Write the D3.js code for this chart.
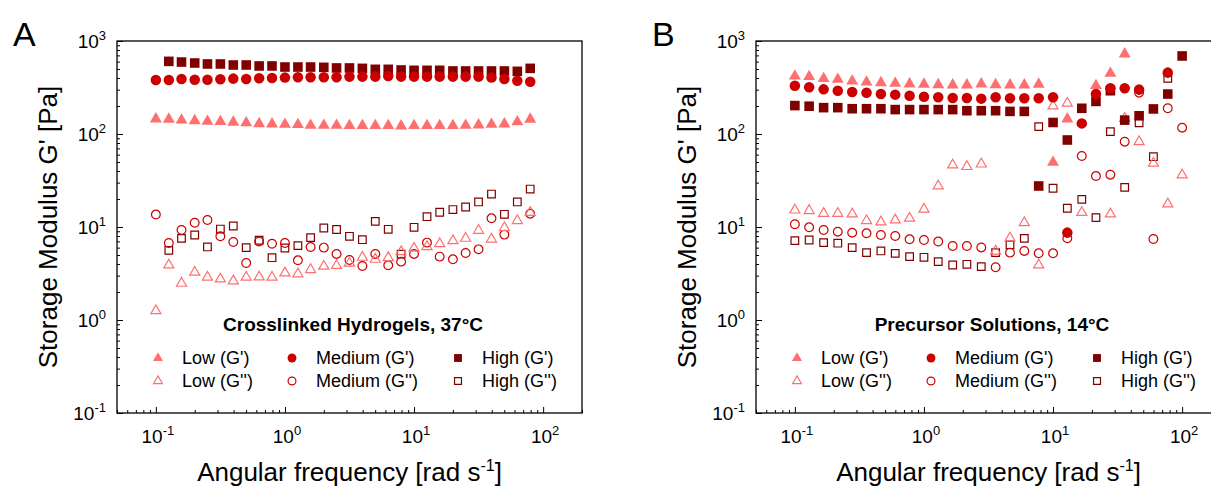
<!DOCTYPE html>
<html>
<head>
<meta charset="utf-8">
<script src="https://cdn.jsdelivr.net/npm/d3@7"></script>
<style>
  body { margin: 0; background: #fff; }
  svg { font-family: "Liberation Sans", Arial, sans-serif; }
</style>
</head>
<body>
<svg id="chart" width="1211" height="488"></svg>
<script>
// angular frequency [rad/s]
const freqA = [0.1, 0.126, 0.158, 0.2, 0.251, 0.316, 0.398, 0.501, 0.631, 0.794, 1, 1.26, 1.58, 2, 2.51, 3.16, 3.98, 5.01, 6.31, 7.94, 10, 12.6, 15.8, 20, 25.1, 31.6, 39.8, 50.1, 63.1, 79.4];
const freqB = [0.1, 0.129, 0.167, 0.215, 0.278, 0.359, 0.464, 0.599, 0.774, 1, 1.29, 1.67, 2.15, 2.78, 3.59, 4.64, 5.99, 7.74, 10, 12.9, 16.7, 21.5, 27.8, 35.9, 46.4, 59.9, 77.4, 100];

// A: crosslinked hydrogels, 37°C  (G1 = G', G2 = G'')
const gelLowG1 = [145, 144, 141, 139, 137, 136, 134, 132, 129, 128, 127, 126, 124, 124, 124, 123, 123, 123, 123, 122, 123, 123, 123, 123, 124, 125, 127, 128, 135, 144];
const gelLowG2 = [1.26, 3.9, 2.48, 3.26, 2.88, 2.76, 2.63, 2.88, 2.9, 2.88, 3.2, 3.13, 3.48, 3.78, 3.85, 4.07, 4.72, 4.49, 4.68, 5.43, 5.9, 6.15, 6.6, 7.13, 7.55, 9.2, 7.4, 9.84, 11.7, 14.3];
const gelMedG1 = [381, 381, 390, 384, 384, 387, 394, 390, 397, 400, 404, 407, 407, 407, 407, 414, 414, 414, 421, 414, 414, 414, 414, 414, 414, 414, 404, 390, 374, 365];
const gelMedG2 = [13.6, 6.73, 9.29, 11.1, 11.9, 7.94, 6.9, 4.1, 7.0, 6.6, 6.73, 4.38, 6.1, 6.0, 5.13, 4.42, 3.81, 5.13, 3.87, 4.24, 5.13, 6.79, 4.8, 4.49, 5.25, 5.75, 12.4, 8.28, null, 13.9];
const gelHighG1 = [null, 604, 594, 580, 566, 566, 552, 552, 539, 539, 525, 525, 525, 521, 513, 513, 508, 496, 496, 488, 484, 484, 484, 476, 476, 476, 476, 476, 472, 508];
const gelHighG2 = [null, 5.61, 7.55, 8.2, 6.1, 9.5, 10.25, 6.0, 7.2, 4.68, 5.95, 6.3, 7.68, 9.76, 9.4, 7.94, 7.3, 11.5, 9.44, 5.1, 9.92, 12.9, 14.4, 15.4, 16.4, 18.6, 22.6, 13.7, 18.6, 25.6];

// B: precursor solutions, 14°C
const solLowG1 = [420, 414, 394, 387, 371, 362, 356, 350, 345, 343, 339, 337, 337, 345, 339, 337, 337, 343, 49.6, 145, null, 331, 449, 725, null, null, null, null];
const solLowG2 = [15.2, 15.0, 14.0, 14.0, 13.8, 11.7, 11.3, 11.9, 12.4, 15.5, 27.6, 46.4, 44.6, 47.5, 5.5, 7.6, 11.1, 3.9, 200, 214, 14.3, null, 13.8, 147, 82.7, 48.4, 17.7, 36.2];
const solMedG1 = [331, 318, 302, 292, 283, 278, 269, 265, 258, 252, 248, 244, 244, 240, 248, 242, 242, 242, 248, 8.7, 130, 269, 310, 310, 300, null, 457, null];
const solMedG2 = [10.7, 9.92, 9.29, 8.91, 8.69, 8.55, 8.2, 8.0, 7.37, 7.25, 6.97, 6.25, 6.25, 6.03, 3.69, 5.3, 5.53, 5.21, 5.21, 7.55, 58, 35.3, 36.5, 82.7, 278, 7.43, 189, 117];
const solHighG1 = [202, 199, 192, 192, 187, 187, 187, 183, 183, 183, 183, 183, 178, 178, 178, 175, 175, 27.6, 133, 86.2, 189, 224, 292, 141, 157, 186, 269, 690];
const solHighG2 = [7.13, 7.25, 6.79, 6.7, 6.0, 5.3, 5.53, 5.21, 4.8, 4.72, 4.24, 3.9, 3.97, 3.75, 5.3, 6.43, 7.55, 120, 26.1, 15.9, 19.8, 12.6, 106, 26.7, 132, 57, 397, null];

const legendLabels = ["Low (G')", "Low (G'')", "Medium (G')", "Medium (G'')", "High (G')", "High (G'')"];
const xMajor = [0.1, 1, 10, 100];
const yMajor = [0.1, 1, 10, 100, 1000];

const lowColor = "#ff6f6f", medColor = "#cc0000", highColor = "#800000";
const W = 465, H = 372, TOP = 41;

const svg = d3.select("#chart");

function makeSeries(lowG1, lowG2, medG1, medG2, highG1, highG2) {
  return [
    {label: legendLabels[0], values: lowG1, color: lowColor, shape: d3.symbolTriangle, filled: true},
    {label: legendLabels[1], values: lowG2, color: lowColor, shape: d3.symbolTriangle, filled: false},
    {label: legendLabels[2], values: medG1, color: medColor, shape: d3.symbolCircle, filled: true},
    {label: legendLabels[3], values: medG2, color: medColor, shape: d3.symbolCircle, filled: false},
    {label: legendLabels[4], values: highG1, color: highColor, shape: d3.symbolSquare, filled: true},
    {label: legendLabels[5], values: highG2, color: highColor, shape: d3.symbolSquare, filled: false}
  ];
}

const panels = [
  {left: 117, letter: "A", title: "Crosslinked Hydrogels, 37°C", freq: freqA,
   series: makeSeries(gelLowG1, gelLowG2, gelMedG1, gelMedG2, gelHighG1, gelHighG2)},
  {left: 756, letter: "B", title: "Precursor Solutions, 14°C", freq: freqB,
   series: makeSeries(solLowG1, solLowG2, solMedG1, solMedG2, solHighG1, solHighG2)}
];

// marker area for d3.symbol
function markerSize(s, legend) {
  const sizes = {
    triangle: [62, 44, 44, 34],
    circle: [87, 60, 62, 48],
    square: [92, 58, 62, 48]
  };
  const key = s.shape === d3.symbolTriangle ? "triangle" : s.shape === d3.symbolCircle ? "circle" : "square";
  const idx = (legend ? 2 : 0) + (s.filled ? 0 : 1);
  return sizes[key][idx];
}

function styleMarker(sel, s) {
  sel.attr("fill", s.filled ? s.color : "none")
    .attr("stroke", s.filled ? "none" : s.color)
    .attr("stroke-width", 1.2);
}

function powText(sel, v, expSize, dy) {
  const e = Math.round(Math.log10(v));
  sel.append("tspan").text("10");
  sel.append("tspan").attr("dy", dy).attr("font-size", expSize).text(e);
}

const isMajor = v => Math.abs(Math.log10(v) - Math.round(Math.log10(v))) < 1e-9;

function drawPanel(p) {
  const g = svg.append("g").attr("transform", `translate(${p.left},${TOP})`);
  const x = d3.scaleLog().domain([0.05, 200]).range([0, W]);
  const y = d3.scaleLog().domain([0.1, 1000]).range([H, 0]);

  // ticks point inward
  const minorX = x.ticks().filter(v => !isMajor(v));
  const minorY = y.ticks().filter(v => !isMajor(v));

  g.append("g").attr("transform", `translate(0,${H})`)
    .call(d3.axisBottom(x).tickValues(minorX).tickSize(-3).tickSizeOuter(0).tickFormat(""))
    .call(a => a.select(".domain").remove());
  g.append("g").attr("transform", `translate(0,${H})`)
    .call(d3.axisBottom(x).tickValues(xMajor).tickSize(-6).tickSizeOuter(0).tickFormat(""))
    .call(a => a.select(".domain").remove());
  g.append("g")
    .call(d3.axisLeft(y).tickValues(minorY).tickSize(-3).tickSizeOuter(0).tickFormat(""))
    .call(a => a.select(".domain").remove());
  g.append("g")
    .call(d3.axisLeft(y).tickValues(yMajor).tickSize(-6).tickSizeOuter(0).tickFormat(""))
    .call(a => a.select(".domain").remove());
  g.selectAll(".tick line").attr("stroke", "#000").attr("stroke-width", 1);

  g.append("rect").attr("width", W).attr("height", H)
    .attr("fill", "none").attr("stroke", "#000").attr("stroke-width", 1.3);

  // tick labels
  g.selectAll(".xlab").data(xMajor).join("text")
    .attr("class", "xlab")
    .attr("x", d => x(d) + 2).attr("y", H + 30)
    .attr("text-anchor", "middle").attr("font-size", 19)
    .each(function (d) { powText(d3.select(this), d, 13, -8); });
  g.selectAll(".ylab").data(yMajor).join("text")
    .attr("class", "ylab")
    .attr("x", -11).attr("y", d => y(d) + 7)
    .attr("text-anchor", "end").attr("font-size", 19)
    .each(function (d) { powText(d3.select(this), d, 13, -8); });

  // axis titles
  const xt = g.append("text").attr("x", W / 2).attr("y", H + 68)
    .attr("text-anchor", "middle").attr("font-size", 26);
  xt.append("tspan").text("Angular frequency [rad s");
  xt.append("tspan").attr("dy", -10).attr("font-size", 16).text("-1");
  xt.append("tspan").attr("dy", 10).text("]");

  g.append("text")
    .attr("transform", `translate(-60,${H / 2}) rotate(-90)`)
    .attr("text-anchor", "middle").attr("font-size", 26)
    .text("Storage Modulus G' [Pa]");

  svg.append("text").attr("x", p.left - 104).attr("y", 46)
    .attr("font-size", 34).text(p.letter);

  // data points: open markers first, filled ones on top
  const order = [5, 3, 1, 4, 2, 0];
  order.forEach(k => {
    const s = p.series[k];
    const pts = p.freq.map((f, i) => [f, s.values[i]]).filter(d => d[1] != null);
    g.append("g").selectAll("path").data(pts).join("path")
      .attr("transform", d => `translate(${x(d[0])},${y(d[1])})`)
      .attr("d", d3.symbol(s.shape, markerSize(s, false)))
      .call(styleMarker, s);
  });

  // title + legend
  g.append("text").attr("x", 236).attr("y", 290)
    .attr("text-anchor", "middle").attr("font-size", 19).attr("font-weight", "bold")
    .text(p.title);

  const colX = [41, 175, 341];
  const rowY = [317, 340];
  p.series.forEach((s, k) => {
    const cx = colX[Math.floor(k / 2)], cy = rowY[k % 2];
    g.append("path")
      .attr("transform", `translate(${cx},${cy})`)
      .attr("d", d3.symbol(s.shape, markerSize(s, true)))
      .call(styleMarker, s);
    g.append("text").attr("x", cx + 24).attr("y", cy + 6)
      .attr("font-size", 18).text(s.label);
  });
}

panels.forEach(drawPanel);
</script>
</body>
</html>
